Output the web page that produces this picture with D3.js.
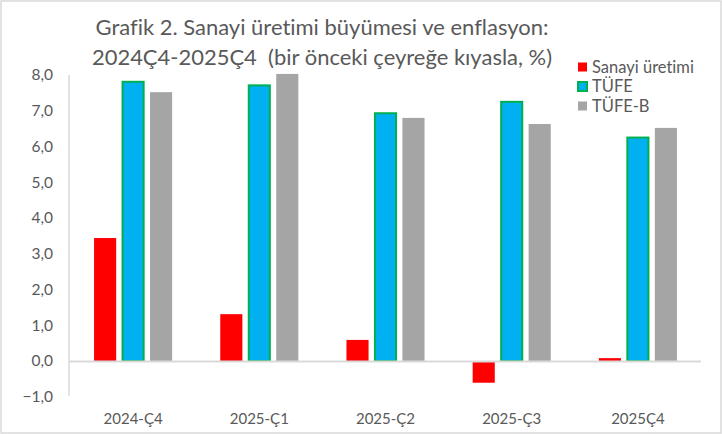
<!DOCTYPE html>
<html>
<head>
<meta charset="utf-8">
<script src="https://cdn.jsdelivr.net/npm/d3@7"></script>
<style>
  body { margin: 0; background: #fff; }
  text { font-family: Lato, "Open Sans", sans-serif; fill: #595959; font-variant-ligatures: none; white-space: pre; }
</style>
</head>
<body>
<div id="chart"></div>
<script>
// data
var quarters = ["2024-Ç4", "2025-Ç1", "2025-Ç2", "2025-Ç3", "2025Ç4"];
var seriesNames = ["Sanayi üretimi", "TÜFE", "TÜFE-B"];
var sanayi = [3.44, 1.31, 0.59, -0.58, 0.08];
var tufe = [7.81, 7.71, 6.93, 7.25, 6.25];
var tufeB = [7.52, 8.03, 6.80, 6.63, 6.52];
var yTicks = [-1, 0, 1, 2, 3, 4, 5, 6, 7, 8];
var titleLines = ["Grafik 2. Sanayi üretimi büyümesi ve enflasyon:",
                  "2024Ç4-2025Ç4  (bir önceki çeyreğe kıyasla, %)"];

var width = 722, height = 434;
var colors = {"Sanayi üretimi": "#ff0000", "TÜFE": "#00b0f0", "TÜFE-B": "#a5a5a5"};

var svg = d3.select("#chart").append("svg")
    .attr("width", width)
    .attr("height", height);

// chart border
svg.append("rect")
    .attr("x", 1).attr("y", 1)
    .attr("width", width - 2).attr("height", height - 2)
    .attr("fill", "#fff")
    .attr("stroke", "#d9d9d9")
    .attr("stroke-width", 1.5);

var x0 = d3.scaleBand()
    .domain(quarters)
    .range([69, 700]);

var x1 = d3.scaleBand()
    .domain(seriesNames)
    .range([0, x0.bandwidth()])
    .paddingInner(0.21)
    .paddingOuter(0.86);

var y = d3.scaleLinear()
    .domain([0, 8])
    .range([361, 75]);

// y axis line + labels
svg.append("line")
    .attr("x1", 69).attr("x2", 69)
    .attr("y1", y(8)).attr("y2", y(-1) - 1)
    .attr("stroke", "#d9d9d9")
    .attr("stroke-width", 1.5);

svg.selectAll(".ytick")
    .data(yTicks)
    .enter().append("text")
    .attr("class", "ytick")
    .attr("x", 53)
    .attr("y", function(d) { return y(d); })
    .attr("dy", ".35em")
    .attr("text-anchor", "end")
    .style("font-size", "15.5px")
    .text(function(d) { return d3.format(".1f")(d).replace(".", ","); });

// bars
var rows = quarters.map(function(q, i) {
  return {q: q, values: [
    {name: "Sanayi üretimi", v: sanayi[i]},
    {name: "TÜFE", v: tufe[i]},
    {name: "TÜFE-B", v: tufeB[i]}
  ]};
});

var group = svg.selectAll(".quarter")
    .data(rows)
    .enter().append("g")
    .attr("class", "quarter")
    .attr("transform", function(d) { return "translate(" + (x0(d.q) + 1) + ",0)"; });

group.selectAll("rect")
    .data(function(d) { return d.values; })
    .enter().append("rect")
    .attr("x", function(d) { return x1(d.name) + (d.name == "TÜFE" ? 0.5 : 0); })
    .attr("width", function(d) { return x1.bandwidth() - (d.name == "TÜFE" ? 1 : 0); })
    .attr("y", function(d) { return d.v >= 0 ? y(d.v) : y(0) + 1; })
    .attr("height", function(d) { return Math.abs(y(d.v) - y(0)); })
    .attr("fill", function(d) { return colors[d.name]; })
    .attr("stroke", function(d) { return d.name == "TÜFE" ? "#00b050" : "none"; })
    .attr("stroke-width", 2);

// zero line
svg.append("line")
    .attr("x1", 69).attr("x2", 701)
    .attr("y1", y(0) + 0.5).attr("y2", y(0) + 0.5)
    .attr("stroke", "#d9d9d9")
    .attr("stroke-width", 2);

// x labels
svg.selectAll(".xlabel")
    .data(quarters)
    .enter().append("text")
    .attr("class", "xlabel")
    .attr("x", function(d) { return x0(d) + x0.bandwidth() / 2 + 1; })
    .attr("y", 424)
    .attr("text-anchor", "middle")
    .style("font-size", "15px")
    .text(function(d) { return d; });

// title, sized to the reference width
var title = svg.selectAll(".title")
    .data(titleLines)
    .enter().append("text")
    .attr("class", "title")
    .attr("x", 322)
    .attr("y", function(d, i) { return 35 + i * 30; })
    .attr("text-anchor", "middle")
    .style("font-size", "20px")
    .text(function(d) { return d; });
var len = title.nodes()[0].getComputedTextLength();
title.style("font-size", (20 * 453 / len) + "px");

// legend
var legend = svg.selectAll(".legend")
    .data(seriesNames)
    .enter().append("g")
    .attr("class", "legend")
    .attr("transform", function(d, i) { return "translate(578," + (67 + i * 19.5) + ")"; });

legend.append("rect")
    .attr("x", 0).attr("y", -4.5)
    .attr("width", 9).attr("height", 9)
    .attr("fill", function(d) { return colors[d]; })
    .attr("stroke", function(d) { return d == "TÜFE" ? "#00b050" : "none"; })
    .attr("stroke-width", 2);

legend.append("text")
    .attr("x", 14)
    .attr("dy", ".36em")
    .style("font-size", "16.5px")
    .text(function(d) { return d; });
</script>
</body>
</html>
